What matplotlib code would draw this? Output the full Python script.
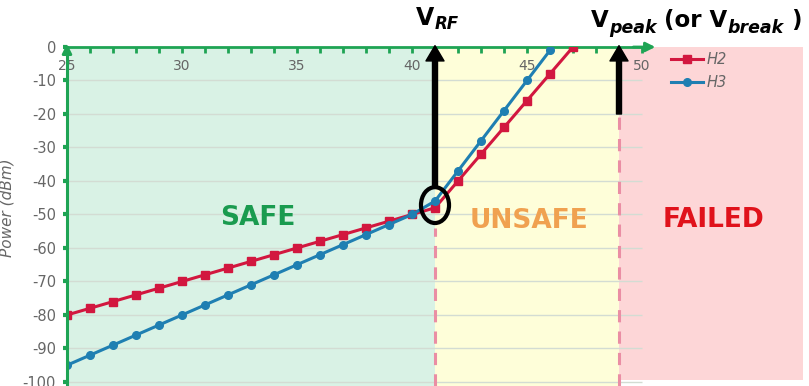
import matplotlib.pyplot as plt
from matplotlib.patches import Ellipse

# data
h2_x = list(range(25, 48))
h2 = [-80, -78, -76, -74, -72, -70, -68, -66, -64, -62, -60, -58,
      -56, -54, -52, -50, -48, -40, -32, -24, -16, -8, 0]
h3_x = list(range(25, 47))
h3 = [-95, -92, -89, -86, -83, -80, -77, -74, -71, -68, -65, -62,
      -59, -56, -53, -50, -46, -37, -28, -19, -10, -1]

x_ticks = [25, 30, 35, 40, 45, 50]
y_ticks = list(range(-100, 1, 10))
v_rf = 41
v_peak = 49
x_end = 57

green = '#1ea454'
gray = '#666666'

W, H = 809, 386
fig = plt.figure(figsize=(W / 100, H / 100), dpi=100)
ax = fig.add_axes([67 / W, 0, 736 / W, 339 / H])
ax.set_xlim(25, x_end)
ax.set_ylim(-101.2, 0)

# zones
ax.axvspan(25, v_rf, color='#d9f2e5', lw=0, zorder=0)
ax.axvspan(v_rf, v_peak, color='#fefed9', lw=0, zorder=0)
ax.fill_between([v_peak, x_end], -99.5, 0, color='#fdd6d7', lw=0, zorder=0)

ax.hlines(y_ticks[:-1], 25, 50, color='#d3dcd3', lw=1, zorder=1)

# dashed boundaries
ax.vlines(v_rf, -101.2, -54, color='#ea8ea4', lw=2.2, linestyles=(0, (4, 3)), zorder=2)
ax.vlines(v_peak, -101.2, -20, color='#ea8ea4', lw=2.2, linestyles=(0, (4, 3)), zorder=2)

ax.plot(h2_x, h2, color='#d2173f', lw=2.2, marker='s', ms=5.5, label='H2', zorder=4)
ax.plot(h3_x, h3, color='#1f7fb2', lw=2.2, marker='o', ms=5.5, label='H3', zorder=5)

# axes styling
for s in ['right', 'bottom']:
    ax.spines[s].set_visible(False)
ax.spines['top'].set_bounds(25, 50)
ax.spines['top'].set_color(green)
ax.spines['top'].set_linewidth(2)
ax.spines['left'].set_color(green)
ax.spines['left'].set_linewidth(2.2)
ax.spines['left'].set_zorder(6)

ax.xaxis.tick_top()
ax.set_xticks(x_ticks)
ax.set_xticks(range(25, 51), minor=True)
ax.tick_params(axis='x', which='both', direction='in', length=4, width=2,
               color=green, labelcolor=gray, labelsize=10, pad=-18.5)
ax.set_yticks(y_ticks)
ax.set_yticklabels([str(v) for v in y_ticks])
ax.tick_params(axis='y', direction='out', length=3, width=3, color=green,
               labelcolor=gray, labelsize=10.5, pad=5)
ax.set_ylabel('Power (dBm)', style='italic', color=gray, fontsize=11)
ax.yaxis.set_label_coords((14.5 - 67) / 736, (H - 208) / 339)

# axis arrow heads
ax.annotate('', xy=(25, 1.8), xytext=(25, -3), annotation_clip=False,
            arrowprops=dict(arrowstyle='-|>', color=green, lw=2, mutation_scale=14))
ax.annotate('', xy=(50.7, 0), xytext=(49.5, 0), annotation_clip=False,
            arrowprops=dict(arrowstyle='-|>', color=green, lw=2, mutation_scale=14))

# zone labels
ax.text(33.3, -51, 'SAFE', color='#1a9b4f', fontsize=19, fontweight='bold', ha='center', va='center')
ax.text(45.1, -52, 'UNSAFE', color='#f0a150', fontsize=19, fontweight='bold', ha='center', va='center')
ax.text(53.1, -51.5, 'FAILED', color='#e0121b', fontsize=19, fontweight='bold', ha='center', va='center')

# markers for V_RF and V_peak
ax.add_patch(Ellipse((v_rf, -47.2), 1.22, 10.7, fill=False, ec='black', lw=3, zorder=7))
ax.annotate('', xy=(v_rf, 0.4), xytext=(v_rf, -41.8), annotation_clip=False, zorder=8,
            arrowprops=dict(width=3.6, headwidth=13, headlength=11, color='black', shrink=0))
ax.annotate('', xy=(v_peak, 0.4), xytext=(v_peak, -20), annotation_clip=False, zorder=8,
            arrowprops=dict(width=3.6, headwidth=13, headlength=11, color='black', shrink=0))

# titles built piece by piece: (text, size, italic, drop in px)
renderer = fig.canvas.get_renderer()


def chain(pieces, x0, base):
    x = x0
    for s, size, italic, drop in pieces:
        t = fig.text(x / W, (H - base - drop) / H, s, fontsize=size, fontweight='bold',
                     style='italic' if italic else 'normal', va='baseline', ha='left')
        x = t.get_window_extent(renderer).x1


chain([('V', 17, False, 0), ('RF', 12, True, 4)], 416, 25)
chain([('V', 16.5, False, 0), ('peak', 12.5, True, 6), (' (or V', 16.5, False, 0),
       ('break', 12.5, True, 6), (' )', 16.5, False, 0)], 591, 27)

leg = ax.legend(loc='upper left', bbox_to_anchor=(664 / W, 1 - 45 / H),
                bbox_transform=fig.transFigure, frameon=False, borderpad=0,
                handlelength=2.2, handletextpad=0.2, labelspacing=0.55,
                prop={'style': 'italic', 'size': 10.5})
for t in leg.get_texts():
    t.set_color(gray)

fig.savefig('out.png', dpi=100)
